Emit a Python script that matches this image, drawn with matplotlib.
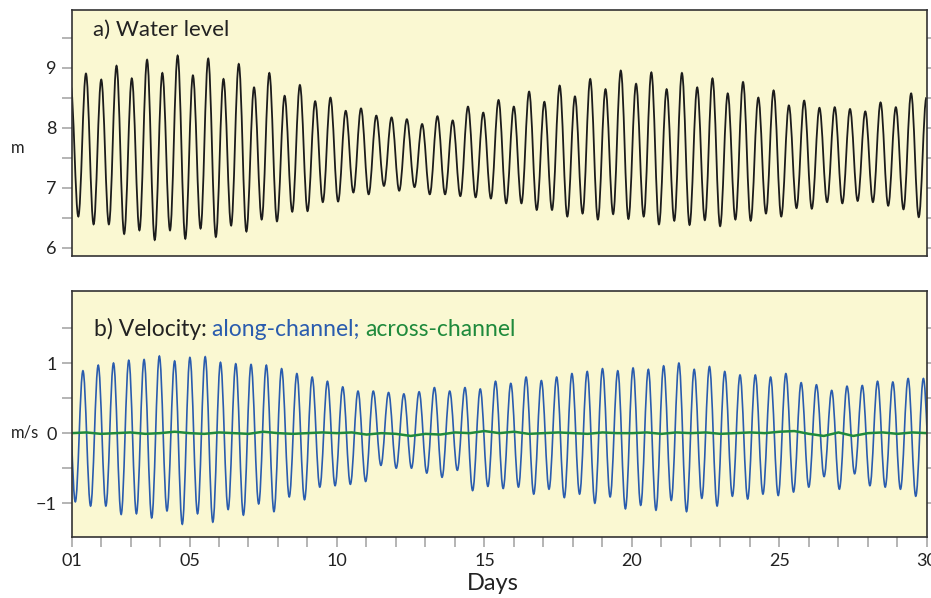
import numpy as np
import matplotlib
matplotlib.use("Agg")
import matplotlib.pyplot as plt
from matplotlib.path import Path
from matplotlib.patches import PathPatch
from matplotlib.ticker import FixedLocator, FixedFormatter

# ── data ──────────────────────────────────────────────────────────────────
# successive high / low waters, alternating, starting with the high just before day 1
WL_T0 = 0.972          # day of first listed extreme
HALF = 0.259           # half of the M2 period (days)
water_level = [
    8.70,
    6.52, 8.90, 6.39, 8.80, 6.39, 9.03, 6.23, 8.82, 6.29, 9.13,
    6.13, 8.91, 6.29, 9.20, 6.15, 8.87, 6.32, 9.15, 6.18, 8.81,
    6.37, 9.06, 6.27, 8.67, 6.47, 8.91, 6.44, 8.53, 6.60, 8.71,
    6.61, 8.44, 6.76, 8.50, 6.77, 8.28, 6.92, 8.32, 6.89, 8.20,
    7.03, 8.17, 6.95, 8.14, 7.01, 8.06, 6.89, 8.19, 6.89, 8.12,
    6.86, 8.35, 6.84, 8.25, 6.82, 8.46, 6.74, 8.35, 6.74, 8.60,
    6.63, 8.43, 6.63, 8.70, 6.52, 8.52, 6.57, 8.81, 6.47, 8.64,
    6.56, 8.95, 6.48, 8.73, 6.52, 8.92, 6.39, 8.64, 6.45, 8.91,
    6.38, 8.67, 6.46, 8.82, 6.36, 8.57, 6.47, 8.76, 6.45, 8.50,
    6.57, 8.62, 6.52, 8.37, 6.66, 8.45, 6.65, 8.33, 6.76, 8.34,
    6.74, 8.31, 6.78, 8.27, 6.76, 8.42, 6.70, 8.34, 6.64, 8.57,
    6.51, 8.50,
]

# along-channel velocity: flood / ebb maxima, alternating
VEL_T0 = 0.870
along = [
    0.90,
    -0.98, 0.89, -1.04, 0.97, -1.04, 1.00, -1.16, 1.04, -1.15, 1.05,
    -1.21, 1.10, -1.11, 1.03, -1.30, 1.08, -1.15, 1.09, -1.27, 1.01,
    -1.09, 0.99, -1.17, 0.98, -1.01, 0.97, -1.12, 0.92, -0.91, 0.85,
    -0.95, 0.80, -0.77, 0.74, -0.75, 0.66, -0.73, 0.60, -0.69, 0.60,
    -0.46, 0.58, -0.50, 0.56, -0.50, 0.59, -0.57, 0.65, -0.63, 0.60,
    -0.53, 0.65, -0.82, 0.63, -0.76, 0.74, -0.79, 0.71, -0.77, 0.80,
    -0.87, 0.75, -0.80, 0.80, -0.92, 0.85, -0.87, 0.88, -1.00, 0.92,
    -0.91, 0.89, -1.08, 0.93, -1.03, 0.91, -1.10, 0.96, -0.96, 1.00,
    -1.12, 0.91, -0.93, 0.95, -1.04, 0.88, -0.90, 0.83, -0.94, 0.83,
    -0.87, 0.80, -0.89, 0.85, -0.84, 0.72, -0.77, 0.69, -0.62, 0.61,
    -0.80, 0.67, -0.58, 0.68, -0.75, 0.74, -0.77, 0.73, -0.80, 0.78,
    -0.90, 0.78, -0.85,
]

# across-channel velocity, every half day from day 1
across = [
    0.00, 0.01, -0.01, 0.00, 0.01, -0.01, 0.00, 0.02, 0.00, -0.01,
    0.01, 0.00, -0.01, 0.02, 0.00, -0.01, 0.00, 0.01, 0.00, 0.01,
    -0.02, 0.00, -0.01, -0.04, -0.01, -0.02, 0.01, 0.00, 0.03, 0.00,
    0.02, -0.01, 0.00, 0.01, 0.00, -0.01, 0.01, 0.00, 0.00, 0.01,
    -0.01, 0.01, 0.00, 0.01, -0.01, 0.00, 0.01, 0.00, 0.02, 0.03,
    -0.01, -0.04, 0.01, -0.04, 0.00, 0.01, -0.01, 0.01, 0.00,
]

day_ticks = [1, 5, 10, 15, 20, 25, 30]
day_labels = ["01", "05", "10", "15", "20", "25", "30"]

BG = "#faf8d2"
BLACK = "#1c1c1c"
BLUE = "#2a5cae"
GREEN = "#1f8a3c"
TICK = "#a8a8a8"
TITLE_FONT = ["Lato", "DejaVu Sans"]
TICK_FONT = ["Liberation Sans Narrow", "Lato", "DejaVu Sans"]


def tide_path(t0, half, values, c=0.364):
    # smooth curve through successive extremes (horizontal tangent at each one)
    verts = [(t0, values[0])]
    codes = [Path.MOVETO]
    for k in range(1, len(values)):
        ta = t0 + (k - 1) * half
        tb = t0 + k * half
        verts += [(ta + c * half, values[k - 1]), (tb - c * half, values[k]), (tb, values[k])]
        codes += [Path.CURVE4] * 3
    return Path(verts, codes)


def style(ax):
    ax.set_facecolor(BG)
    ax.set_xlim(1, 30)
    for s in ax.spines.values():
        s.set_color("#333333")
        s.set_linewidth(1.2)
    ax.tick_params(which="both", direction="out", length=7, width=1.2, color=TICK,
                   left=True, right=True, top=False, labelsize=13, labelcolor="#222222")
    for lab in ax.get_yticklabels():
        lab.set_family(TICK_FONT)


fig = plt.figure(figsize=(9.31, 5.98), dpi=100)
ax1 = fig.add_axes([0.0768, 0.5727, 0.9189, 0.4106])
ax2 = fig.add_axes([0.0768, 0.1012, 0.9189, 0.4122])

# ── a) water level ────────────────────────────────────────────────────────
ax1.add_patch(PathPatch(tide_path(WL_T0, HALF, water_level), fill=False,
                        edgecolor=BLACK, linewidth=1.3))
ax1.set_ylim(5.87, 9.96)
ax1.yaxis.set_major_locator(FixedLocator([6, 7, 8, 9]))
ax1.yaxis.set_minor_locator(FixedLocator([6.5, 7.5, 8.5, 9.5]))
style(ax1)
ax1.tick_params(axis="x", which="both", bottom=False, labelbottom=False)
ax1.text(0.025, 0.92, "a) Water level", transform=ax1.transAxes, va="center",
         fontsize=16, color="#222222", family=TITLE_FONT)

# ── b) velocity ───────────────────────────────────────────────────────────
ax2.add_patch(PathPatch(tide_path(VEL_T0, HALF, along), fill=False,
                        edgecolor=BLUE, linewidth=1.2))
across_days = 1 + 0.5 * np.arange(len(across))
ax2.plot(across_days, across, color=GREEN, linewidth=1.8)
ax2.set_ylim(-1.49, 2.03)
ax2.yaxis.set_major_locator(FixedLocator([-1, 0, 1]))
ax2.yaxis.set_minor_locator(FixedLocator([-0.5, 0.5, 1.5]))
ax2.xaxis.set_major_locator(FixedLocator(day_ticks))
ax2.xaxis.set_major_formatter(FixedFormatter(day_labels))
ax2.xaxis.set_minor_locator(FixedLocator(list(range(1, 31))))
style(ax2)
ax2.tick_params(axis="x", which="both", bottom=True, pad=4)
for lab in ax2.get_xticklabels():
    lab.set_family(TICK_FONT)

t1 = ax2.text(0.026, 0.845, "b) Velocity: ", transform=ax2.transAxes, va="center",
              fontsize=16.5, color="#222222", family=TITLE_FONT)
t2 = ax2.annotate("along-channel; ", xycoords=t1, xy=(1, 0), va="bottom",
                  fontsize=16.5, color=BLUE, family=TITLE_FONT)
ax2.annotate("across-channel", xycoords=t2, xy=(1, 0), va="bottom",
             fontsize=16.5, color=GREEN, family=TITLE_FONT)

fig.text(18 / 931, 1 - 148 / 598, "m", ha="center", va="center", fontsize=12,
         color="#222222", family=TITLE_FONT)
fig.text(25 / 931, 1 - 433 / 598, "m/s", ha="center", va="center", fontsize=12,
         color="#222222", family=TITLE_FONT)
fig.text(493 / 931, 1 - 584 / 598, "Days", ha="center", va="center", fontsize=17,
         color="#222222", family=TITLE_FONT)

fig.savefig("out.png", dpi=100)
